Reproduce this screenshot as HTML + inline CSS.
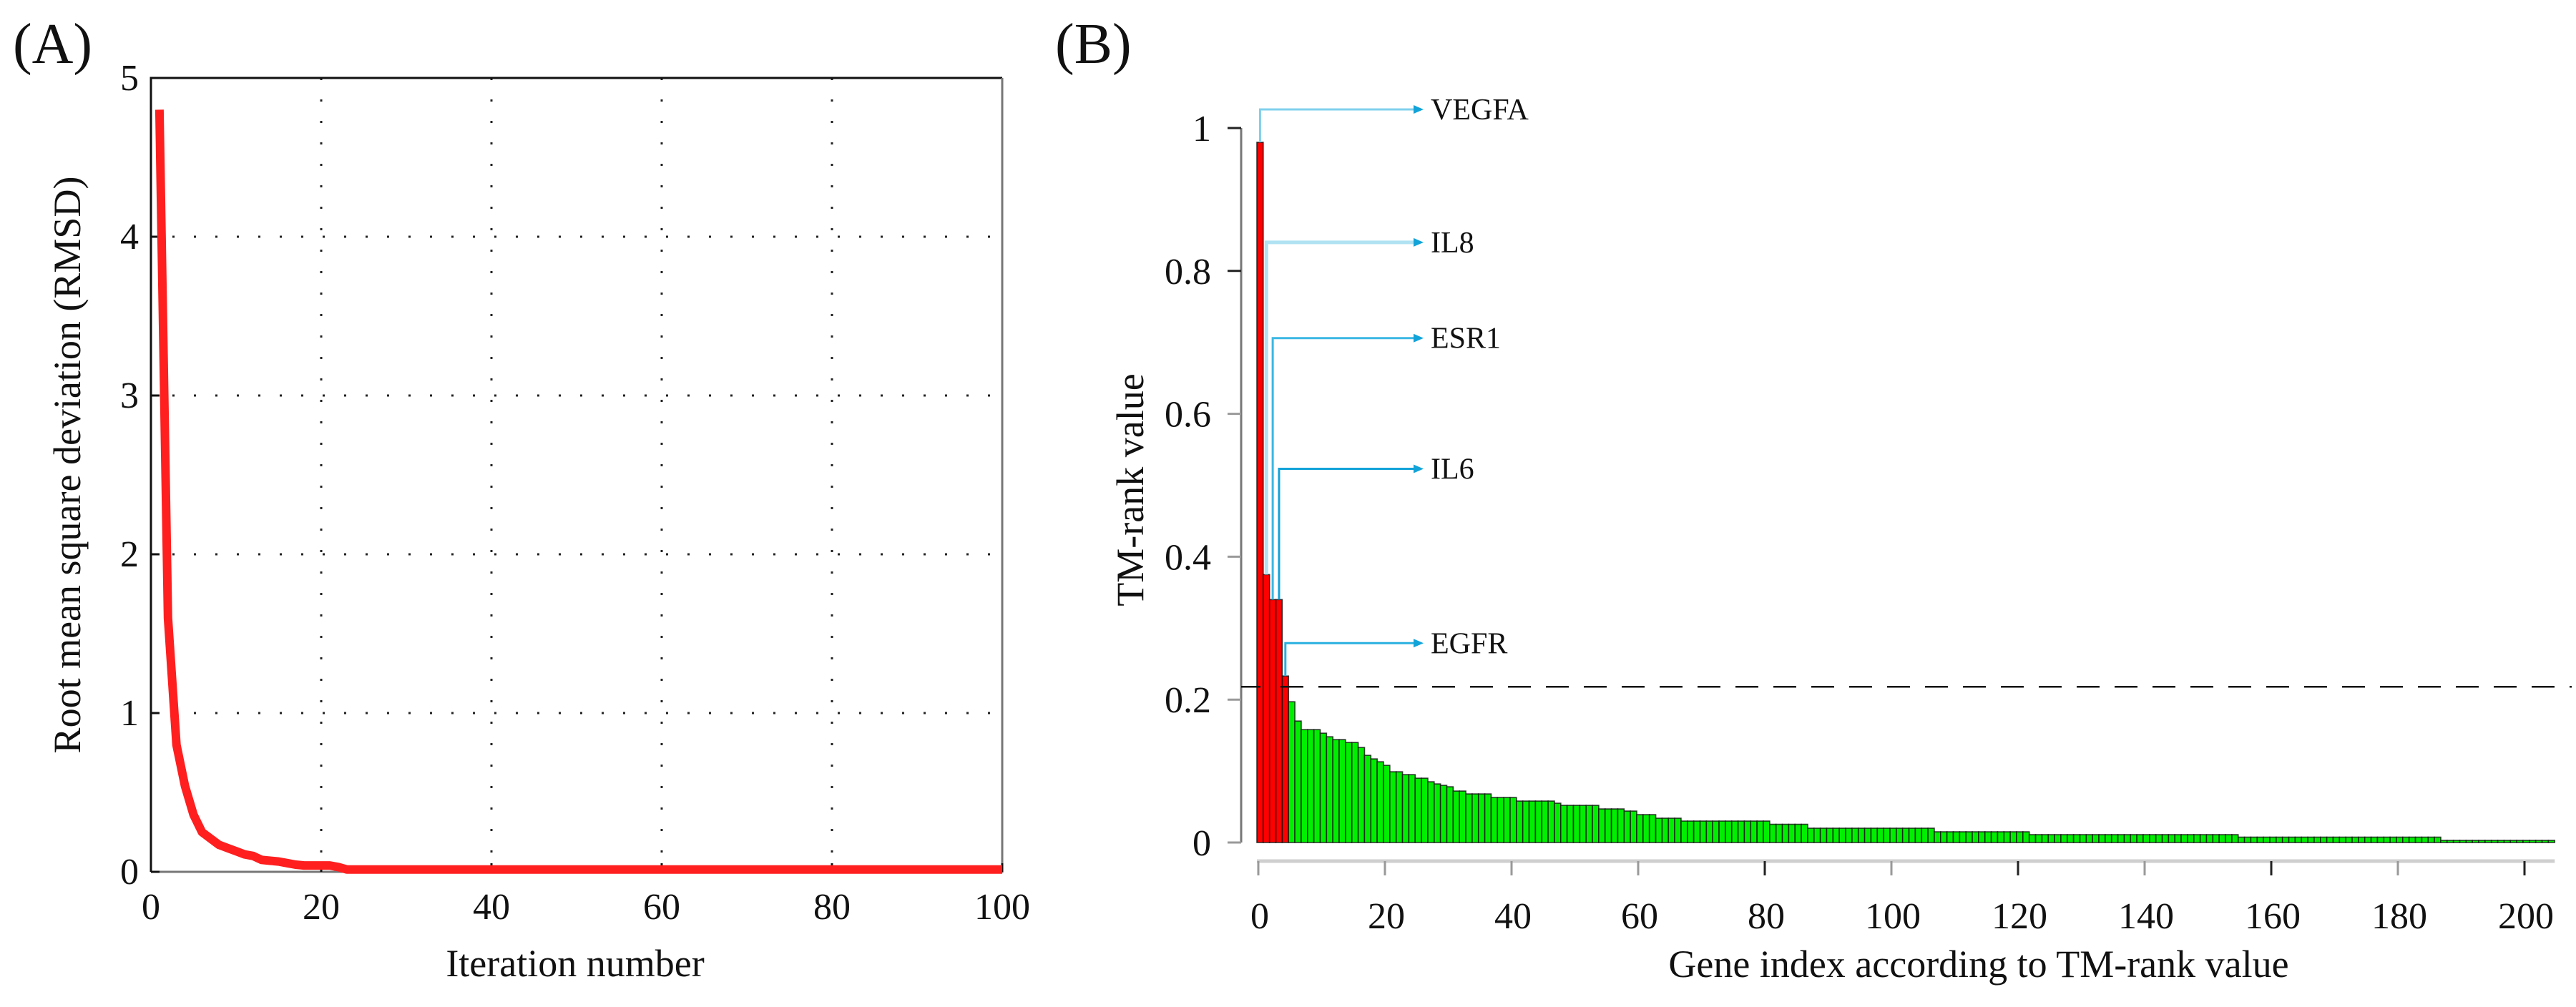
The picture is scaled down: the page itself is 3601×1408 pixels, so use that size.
<!DOCTYPE html>
<html><head><meta charset="utf-8"><style>
html,body{margin:0;padding:0;background:#fff;}
svg{display:block;}
svg text{font-family:"Liberation Serif","DejaVu Serif",serif;fill:#111;}
</style></head><body>
<svg id="fig" xmlns="http://www.w3.org/2000/svg" width="3601" height="1408" viewBox="0 0 3601 1408" font-family="Liberation Serif, DejaVu Serif, serif">
<rect x="0" y="0" width="3601" height="1408" fill="#fff"/>
<text x="18" y="88" font-size="80" font-family="Liberation Serif, DejaVu Serif, serif">(A)</text>
<text x="1475" y="88" font-size="80" font-family="Liberation Serif, DejaVu Serif, serif">(B)</text>
<g id="pa"></g>
<g id="pb"></g>
</svg>
<script>
// ---------- Panel A data ----------
const iterValues = [4.8,1.6,0.8,0.54,0.36,0.25,0.21,0.17,0.15,0.13,0.11,0.1,0.075,0.07,0.065,0.055,0.045,0.04,0.04,0.04,0.04,0.03,0.015,0.015,0.015];
const iterTailValue = [0.015];
const aXTicks = [0,20,40,60,80,100];
const aYTicks = [0,1,2,3,4,5];
// ---------- Panel B data ----------
const runValues = [0.98,0.375,0.34,0.233,0.197,0.17,0.158,0.153,0.148,0.144,0.14,0.133,0.122,0.117,0.113,0.108,0.099,0.095,0.09,0.085,0.082,0.08,0.078,0.072,0.068,0.063,0.058,0.055,0.052,0.047,0.044,0.039,0.034,0.030,0.0255,0.020,0.015,0.011,0.0075,0.003];
const runCounts = [1,1,2,1,1,1,3,1,1,2,2,1,1,1,1,1,2,2,2,1,1,1,1,2,4,4,6,1,6,4,2,3,4,14,6,20,15,33,32,18];
const redCount = 5;
const threshold = 0.218;
const geneLabels = ['VEGFA','IL8','ESR1','IL6','EGFR'];
const geneLabelLevels = [1.026,0.84,0.706,0.523,0.279];
const geneLabelColors = ['#7fd0ec','#b0e2f2','#3bb8e4','#12a3d9','#2ab0e0'];
const bXTicks = [0,20,40,60,80,100,120,140,160,180,200];
const bYTicks = [0,0.2,0.4,0.6,0.8,1];
const bYTickLabels = ['0','0.2','0.4','0.6','0.8','1'];

const NS='http://www.w3.org/2000/svg';
const FF='Liberation Serif, DejaVu Serif, serif';
function mk(tag, attrs, parent){const e=document.createElementNS(NS,tag);for(const k in attrs)e.setAttribute(k,attrs[k]);if(tag==='text')e.setAttribute('font-family',FF);parent.appendChild(e);return e;}

// ---------- Panel A ----------
(function(){
const g=document.getElementById('pa');
const ax=v=>211+v*11.9;
const ay=v=>1219-v*222;
for(const t of aXTicks){ if(t===0||t===100) continue;
  const l=mk('line',{x1:ax(t),y1:ay(5),x2:ax(t),y2:ay(0),stroke:'#222','stroke-width':3,'stroke-dasharray':'3 27'},g);
  
  
}
for(const t of aYTicks){ if(t===0||t===5) continue;
  const l=mk('line',{x1:ax(0),y1:ay(t),x2:ax(100),y2:ay(t),stroke:'#222','stroke-width':3,'stroke-dasharray':'3 27'},g);
  
  
}
const fr=mk('path',{d:`M${ax(0)},${ay(0)} V${ay(5)} H${ax(100)}`,fill:'none',stroke:'#111','stroke-width':3},g);


const fr2=mk('path',{d:`M${ax(100)},${ay(5)} V${ay(0)} H${ax(0)}`,fill:'none',stroke:'#777','stroke-width':3},g);


for(const t of aXTicks){
  const tk=mk('line',{x1:ax(t),y1:ay(0),x2:ax(t),y2:ay(0)-12,stroke:'#111','stroke-width':3},g);
  
  
  const tx=mk('text',{x:ax(t),y:1285,'font-size':52,'text-anchor':'middle'},g);
  tx.textContent=t;
  
  
}
for(const t of aYTicks){
  const tk=mk('line',{x1:ax(0),y1:ay(t),x2:ax(0)+12,y2:ay(t),stroke:'#111','stroke-width':3},g);
  
  
  const tx=mk('text',{x:194,y:ay(t)+17,'font-size':52,'text-anchor':'end'},g);
  tx.textContent=t;
  
  
}
const vals=iterValues.slice();
while(vals.length<100) vals.push(iterTailValue[0]);
let d='';
vals.forEach((v,i)=>{d+=(i?'L':'M')+ax(i+1).toFixed(1)+','+ay(v).toFixed(1);});
const p=mk('path',{d:d,fill:'none',stroke:'#ff1f1f','stroke-width':12,'stroke-linejoin':'round'},g);


const xt=mk('text',{x:804,y:1365,'font-size':54,'text-anchor':'middle'},g);
xt.textContent='Iteration number';


const yt=mk('text',{x:0,y:0,'font-size':54,'text-anchor':'middle',transform:'translate(112,650) rotate(-90)'},g);
yt.textContent='Root mean square deviation (RMSD)';


})();

// ---------- Panel B ----------
(function(){
const g=document.getElementById('pb');
const bw=8.85;
const bx=i=>1757+i*bw;
const by=v=>1178-v*999;
const values=[];
runValues.forEach((v,k)=>{for(let j=0;j<runCounts[k];j++)values.push(v);});
const yl=mk('line',{x1:1735,y1:by(1),x2:1735,y2:by(0),stroke:'#777','stroke-width':3},g);


bYTicks.forEach((t,k)=>{
  const tk=mk('line',{x1:1716,y1:by(t),x2:1735,y2:by(t),stroke:t>=0.8?'#222':'#999','stroke-width':3},g);
  
  
  const tx=mk('text',{x:1693,y:by(t)+18,'font-size':52,'text-anchor':'end'},g);
  tx.textContent=bYTickLabels[k];
  
  
});
values.forEach((v,i)=>{
  const r=mk('rect',{x:bx(i),y:by(v),width:bw,height:by(0)-by(v),fill:i<redCount?'#ff0000':'#00ee00',stroke:'#111','stroke-width':1.6,'stroke-opacity':0.8},g);
  
  
});
const n=values.length;
const xl=mk('line',{x1:bx(0),y1:1204,x2:bx(n),y2:1204,stroke:'#cfcfcf','stroke-width':5},g);


for(const t of bXTicks){
  const tk=mk('line',{x1:bx(t)+2,y1:1204,x2:bx(t)+2,y2:1224,stroke:(t%40===0&&t>=80)?'#222':'#999','stroke-width':3},g);
  
  
  const tx=mk('text',{x:bx(t)+4,y:1298,'font-size':52,'text-anchor':'middle'},g);
  tx.textContent=t;
  
  
}
const th0=mk('line',{x1:1735,y1:by(threshold),x2:1762,y2:by(threshold),stroke:'#111','stroke-width':2.5},g);


const th=mk('line',{x1:1790,y1:by(threshold),x2:3595,y2:by(threshold),stroke:'#111','stroke-width':2.5,'stroke-dasharray':'32 21'},g);


geneLabels.forEach((name,i)=>{
  const cx=bx(i)+bw/2, top=by(values[i]), ly=by(geneLabelLevels[i]);
  const c=geneLabelColors[i];
  const pl=mk('path',{d:`M${cx},${top} V${ly} H1978`,fill:'none',stroke:c,'stroke-width':i===1?5:3},g);
  
  
  const ah=mk('path',{d:`M1976,${ly-6} L1990,${ly} L1976,${ly+6} Z`,fill:'#12a3d9'},g);
  
  
  const tx=mk('text',{x:2000,y:ly+14,'font-size':42},g);
  tx.textContent=name;
  
  
});
const xt=mk('text',{x:2766,y:1366,'font-size':54,'text-anchor':'middle'},g);
xt.textContent='Gene index according to TM-rank value';


const yt=mk('text',{x:0,y:0,'font-size':54,'text-anchor':'middle',transform:'translate(1598,685) rotate(-90)'},g);
yt.textContent='TM-rank value';


})();
</script>
</body></html>
